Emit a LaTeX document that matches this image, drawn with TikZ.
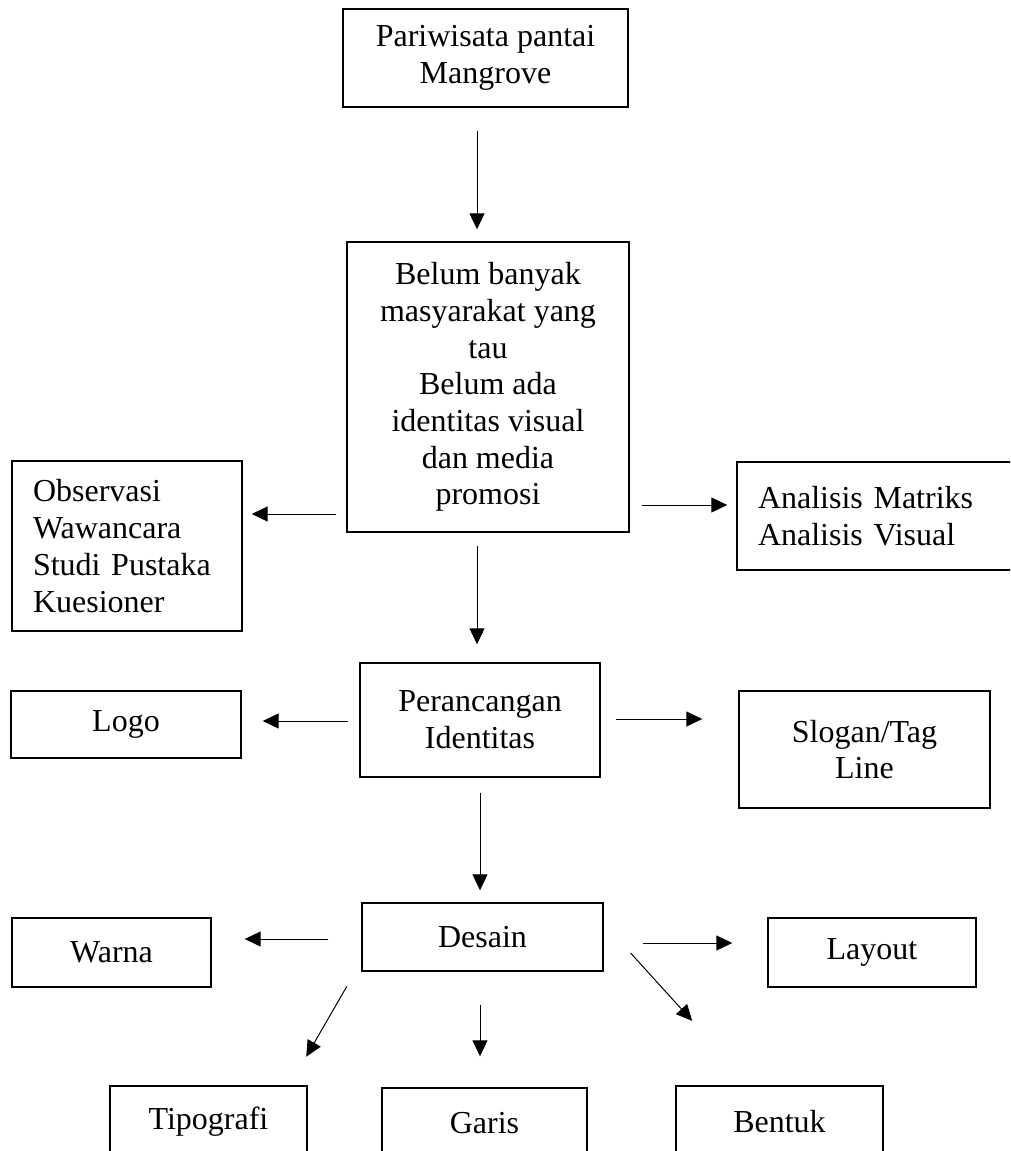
\documentclass[tikz,border=0pt]{standalone}
\usepackage{fontspec}
\setmainfont{Liberation Serif}
\usetikzlibrary{arrows.meta}

\tikzset{
    kotak/.style={draw, line width=1.4pt, align=center, inner sep=0pt,
        font=\fontsize{32}{36.7}\selectfont},
    panah/.style={-{Triangle[length=16pt,width=15pt]}, line width=1pt},
}

\begin{document}
\begin{tikzpicture}[x=1pt, y=-1pt]
        \clip (0,0) rectangle (1010,1151); % page frame

        % Top: theme and problem
        \node[kotak, minimum width=285pt, minimum height=98pt] (wisata) at (485.5,58) {Pariwisata pantai\\Mangrove};
        \node[kotak, minimum width=282pt, minimum height=290pt] (masalah) at (488,387)
            {Belum banyak\\masyarakat yang\\tau\\Belum ada\\identitas visual\\dan media\\promosi};
        \node[kotak, align=left, text width=188pt, inner xsep=21pt, minimum height=170pt] (metode) at (127,546)
            {Observasi\\Wawancara\\Studi Pustaka\\Kuesioner};
        \node[kotak, align=left, text width=258pt, inner xsep=21pt, minimum height=108pt] (analisis) at (887,516)
            {Analisis Matriks\\Analisis Visual};

        % Middle: identity design
        \node[kotak, minimum width=240pt, minimum height=114pt] (rancang) at (480,720) {Perancangan\\Identitas};
        \node[kotak, minimum width=230pt, minimum height=67pt] (logo) at (126,724.5) {Logo};
        \node[kotak, minimum width=251pt, minimum height=117pt] (slogan) at (864.5,749.5) {Slogan/Tag\\Line};

        % Bottom: design elements
        \node[kotak, minimum width=241pt, minimum height=68pt] (desain) at (482.5,937) {Desain};
        \node[kotak, minimum width=199pt, minimum height=69pt] (warna) at (111.5,952.5) {Warna};
        \node[kotak, minimum width=208pt, minimum height=69pt] (layout) at (872,952.5) {Layout};
        \node[kotak, minimum width=197pt, minimum height=72pt] (tipo) at (208.5,1122) {Tipografi};
        \node[kotak, minimum width=205pt, minimum height=70pt] (garis) at (484.5,1123) {Garis};
        \node[kotak, minimum width=207pt, minimum height=72pt] (bentuk) at (779.5,1122) {Bentuk};

        % Arrows
        \draw[panah, shorten <=23pt, shorten >=12pt] ([xshift=-8.5pt]wisata.south) -- ([xshift=-11pt]masalah.north);
        \draw[panah, shorten <=10pt, shorten >=9pt] ([yshift=-127pt]masalah.west) -- ([yshift=32pt]metode.east);
        \draw[panah, shorten <=12pt, shorten >=9pt] ([yshift=-118pt]masalah.east) -- ([yshift=11pt]analisis.west);
        \draw[panah, shorten <=13pt, shorten >=18pt] ([xshift=-11pt]masalah.south) -- ([xshift=-3pt]rancang.north);

        \draw[panah, shorten <=11pt, shorten >=21pt] ([yshift=-1pt]rancang.west) -- ([yshift=3.5pt]logo.east);
        \draw[panah, shorten <=15pt, shorten >=36pt] ([yshift=1pt]rancang.east) -- ([yshift=30.5pt]slogan.west);
        \draw[panah, shorten <=15pt, shorten >=12pt] (rancang.south) -- ([xshift=-2.5pt]desain.north);

        \draw[panah, shorten <=33pt, shorten >=33pt] ([yshift=-2pt]desain.west) -- ([yshift=13.5pt]warna.east);
        \draw[panah, shorten <=39pt, shorten >=35pt] ([yshift=-6pt]desain.east) -- ([yshift=9.5pt]layout.west);
        \draw[panah, shorten <=17pt, shorten >=33pt] ([xshift=-6pt]desain.south west) -- ([xshift=-18pt]tipo.north east);
        \draw[panah, shorten <=33pt, shorten >=31pt] ([xshift=-2.5pt]desain.south) -- ([xshift=-4.5pt]garis.north);
        \draw[panah, shorten <=40pt, shorten >=87pt] ([yshift=13.6pt]desain.east) -- ([xshift=75.4pt]bentuk.north west);
\end{tikzpicture}
\end{document}
